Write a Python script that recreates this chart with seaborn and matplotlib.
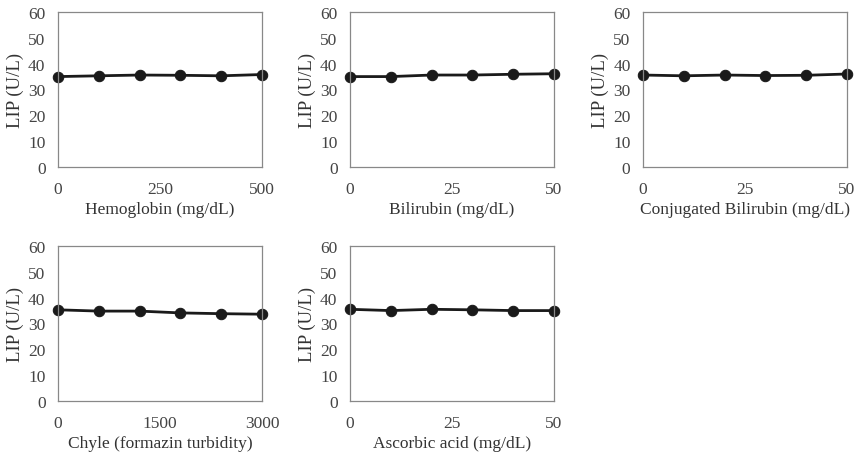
import matplotlib
matplotlib.use("Agg")
import matplotlib.pyplot as plt
import seaborn as sns
import pandas as pd

sns.set_theme(style="white")
plt.rcParams['font.family'] = ['Liberation Serif', 'DejaVu Serif']

hemo_x = [0, 100, 200, 300, 400, 500]
hemo_y = [35.0, 35.3, 35.6, 35.5, 35.3, 35.8]
bili_x = [0, 10, 20, 30, 40, 50]
bili_y = [35.0, 35.0, 35.6, 35.6, 35.9, 36.1]
cbili_x = [0, 10, 20, 30, 40, 50]
cbili_y = [35.6, 35.3, 35.6, 35.4, 35.5, 36.0]
chyle_x = [0, 600, 1200, 1800, 2400, 3000]
chyle_y = [35.3, 34.8, 34.8, 34.1, 33.8, 33.6]
asc_x = [0, 10, 20, 30, 40, 50]
asc_y = [35.5, 35.0, 35.5, 35.3, 35.0, 35.0]

xlabels = ["Hemoglobin (mg/dL)", "Bilirubin (mg/dL)", "Conjugated Bilirubin (mg/dL)",
           "Chyle (formazin turbidity)", "Ascorbic acid (mg/dL)"]
xticks = [[0, 250, 500], [0, 25, 50], [0, 25, 50], [0, 1500, 3000], [0, 25, 50]]
ylabel = "LIP (U/L)"
yticks = [0, 10, 20, 30, 40, 50, 60]

panels = [(hemo_x, hemo_y), (bili_x, bili_y), (cbili_x, cbili_y), (chyle_x, chyle_y), (asc_x, asc_y)]

W, H = 859, 456
fig = plt.figure(figsize=(W / 100, H / 100), dpi=100)
lefts = [58, 350, 643, 58, 350]
tops = [13, 13, 13, 247, 247]
aw, ah = 204, 155

for i, ((xs, ys), xl, xt) in enumerate(zip(panels, xlabels, xticks)):
    ax = fig.add_axes([lefts[i] / W, (H - tops[i] - ah) / H, aw / W, ah / H])
    df = pd.DataFrame({"x": xs, "y": ys})
    sns.lineplot(data=df, x="x", y="y", ax=ax, color="#1a1a1a", linewidth=2,
                 marker="o", markersize=7.5, markeredgecolor="#1a1a1a", clip_on=False)
    ax.set_xlim(xt[0], xt[-1])
    ax.set_ylim(0, 60)
    ax.set_xticks(xt)
    ax.set_yticks(yticks)
    for s in ax.spines.values():
        s.set_color("#888888")
        s.set_linewidth(0.9)
    ax.tick_params(axis="x", direction="in", length=3, color="#888888",
                   labelsize=12.5, labelcolor="#444444", pad=10)
    ax.tick_params(axis="y", direction="out", length=0, labelsize=12.5,
                   labelcolor="#444444", pad=9)
    ax.set_xlabel(xl, fontsize=12.5, color="#333333", labelpad=3)
    ax.set_ylabel(ylabel, fontsize=13.5, color="#333333", labelpad=3)
    ax.grid(False)

fig.savefig("out.png", dpi=100)
